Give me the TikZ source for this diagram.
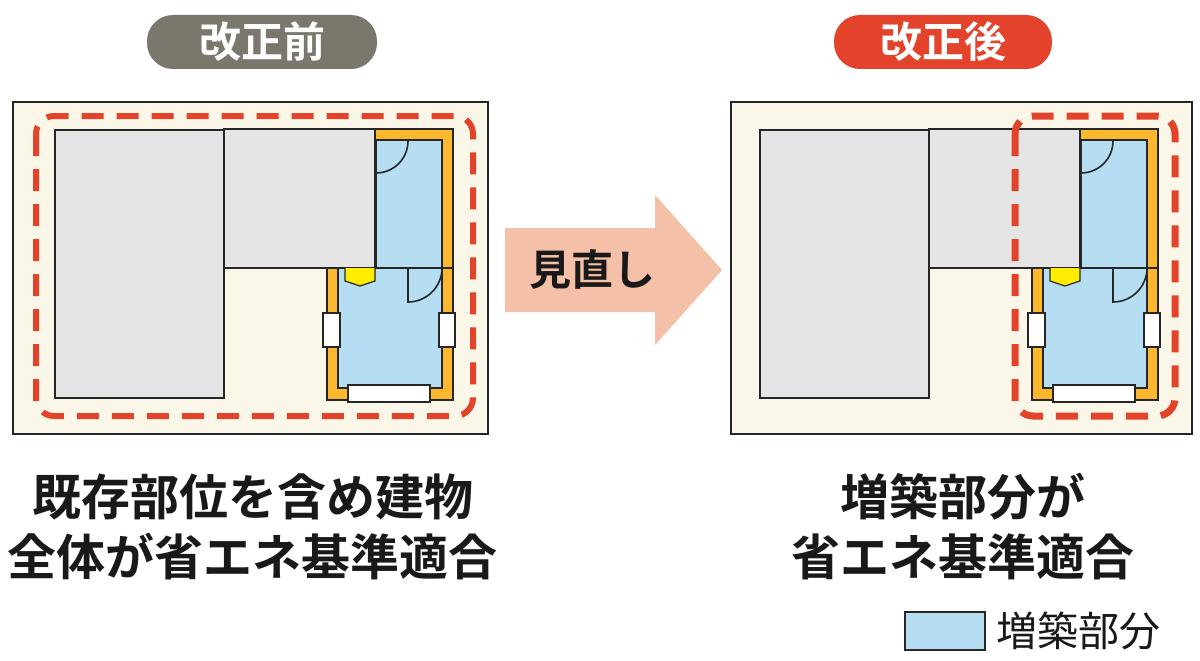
\documentclass[tikz,border=0pt]{standalone}
\usepackage{fontspec}
\setmainfont{Noto Sans CJK JP}
\newfontfamily\jpb{Noto Sans CJK JP Bold}
\definecolor{cream}{HTML}{FAF7E8}
\definecolor{wallgray}{HTML}{E5E5E6}
\definecolor{roomblue}{HTML}{B6DEF3}
\definecolor{wallorange}{HTML}{FBB72D}
\definecolor{redline}{HTML}{E2432A}
\definecolor{badgegray}{HTML}{7B776C}
\definecolor{arrowpink}{HTML}{F4C0A8}
\definecolor{doory}{HTML}{FFEC00}
\tikzset{
  ln/.style={draw=black!85,line width=1.6pt},
  graybox/.style={ln,fill=wallgray},
  badge/.style={rounded corners=26pt,minimum width=230pt,minimum height=54pt,text=white,font=\jpb\fontsize{42}{42}\selectfont,inner sep=0pt},
  bigtxt/.style={font=\jpb\fontsize{49}{60}\selectfont,align=center,text=black!90},
  reddash/.style={draw=redline,line width=6pt,dash pattern=on 22pt off 13pt,rounded corners=18pt},
  win/.style={draw=black!85,line width=1.4pt,fill=white}
}
\newcommand{\plan}[1]{%
\begin{scope}[xshift=#1]
 \draw[graybox] (55,130) rectangle (224,398);
 \draw[graybox] (224,129) rectangle (375,268);
 \fill[wallorange] (375,129) rectangle (453,268);
 \draw[ln,fill=roomblue] (376,140) rectangle (442,268);
 \draw[ln] (375,129) -- (453,129) -- (453,268);
 \fill[wallorange] (327,268) rectangle (453,400);
 \draw[ln,fill=roomblue] (338,268) rectangle (442,388);
 \draw[ln] (327,268) rectangle (453,400);
 \draw[ln] (224,268) -- (453,268);
 \draw[ln] (375,129) -- (375,268);
 \draw[ln] (376,173) arc[start angle=90,end angle=0,radius=32];
 \draw[ln] (408,268) -- (408,302) arc[start angle=90,end angle=0,radius=34];
 \draw[ln,fill=doory,line width=1.2pt] (345,268) -- (345,281) -- (360,286) -- (375,281) -- (375,268);
 \draw[win] (323,313) rectangle (340,347);
 \draw[win] (439,313) rectangle (455,347);
 \draw[win] (348,385) rectangle (430,402);
\end{scope}}
\begin{document}
\begin{tikzpicture}[x=1pt,y=-1pt]
\useasboundingbox (0,0) rectangle (1200,661);
\fill[white] (0,0) rectangle (1200,661);
\draw[draw=black!85,line width=1.4pt,fill=cream] (13,102) rectangle (488,434);
\draw[draw=black!85,line width=1.4pt,fill=cream] (731,102) rectangle (1192,434);
\plan{0pt}
\plan{705pt}
\draw[reddash] (36,116) rectangle (473,416);
\draw[reddash,line width=7pt] (1015,116) rectangle (1175,416);
\node[badge,fill=badgegray] (b1) at (262,42) {改正前};
\node[badge,fill=redline,minimum width=218pt] (b2) at (943,42) {改正後};
\fill[arrowpink] (505,228) -- (655,228) -- (655,195) -- (722,270) -- (655,345) -- (655,312) -- (505,312) -- cycle;
\node[font=\jpb\fontsize{42}{42}\selectfont,text=black!90] (ar) at (592,270) {見直し};
\node[bigtxt] (t1) at (253,527) {既存部位を含め建物\\全体が省エネ基準適合};
\node[bigtxt] (t2) at (963,527) {増築部分が\\省エネ基準適合};
\draw[draw=black!85,line width=1.4pt,fill=roomblue] (905,612) rectangle (985,650);
\node[anchor=west,font=\fontsize{41}{41}\selectfont,text=black!90] (lg) at (993,631) {増築部分};
\end{tikzpicture}
\end{document}
